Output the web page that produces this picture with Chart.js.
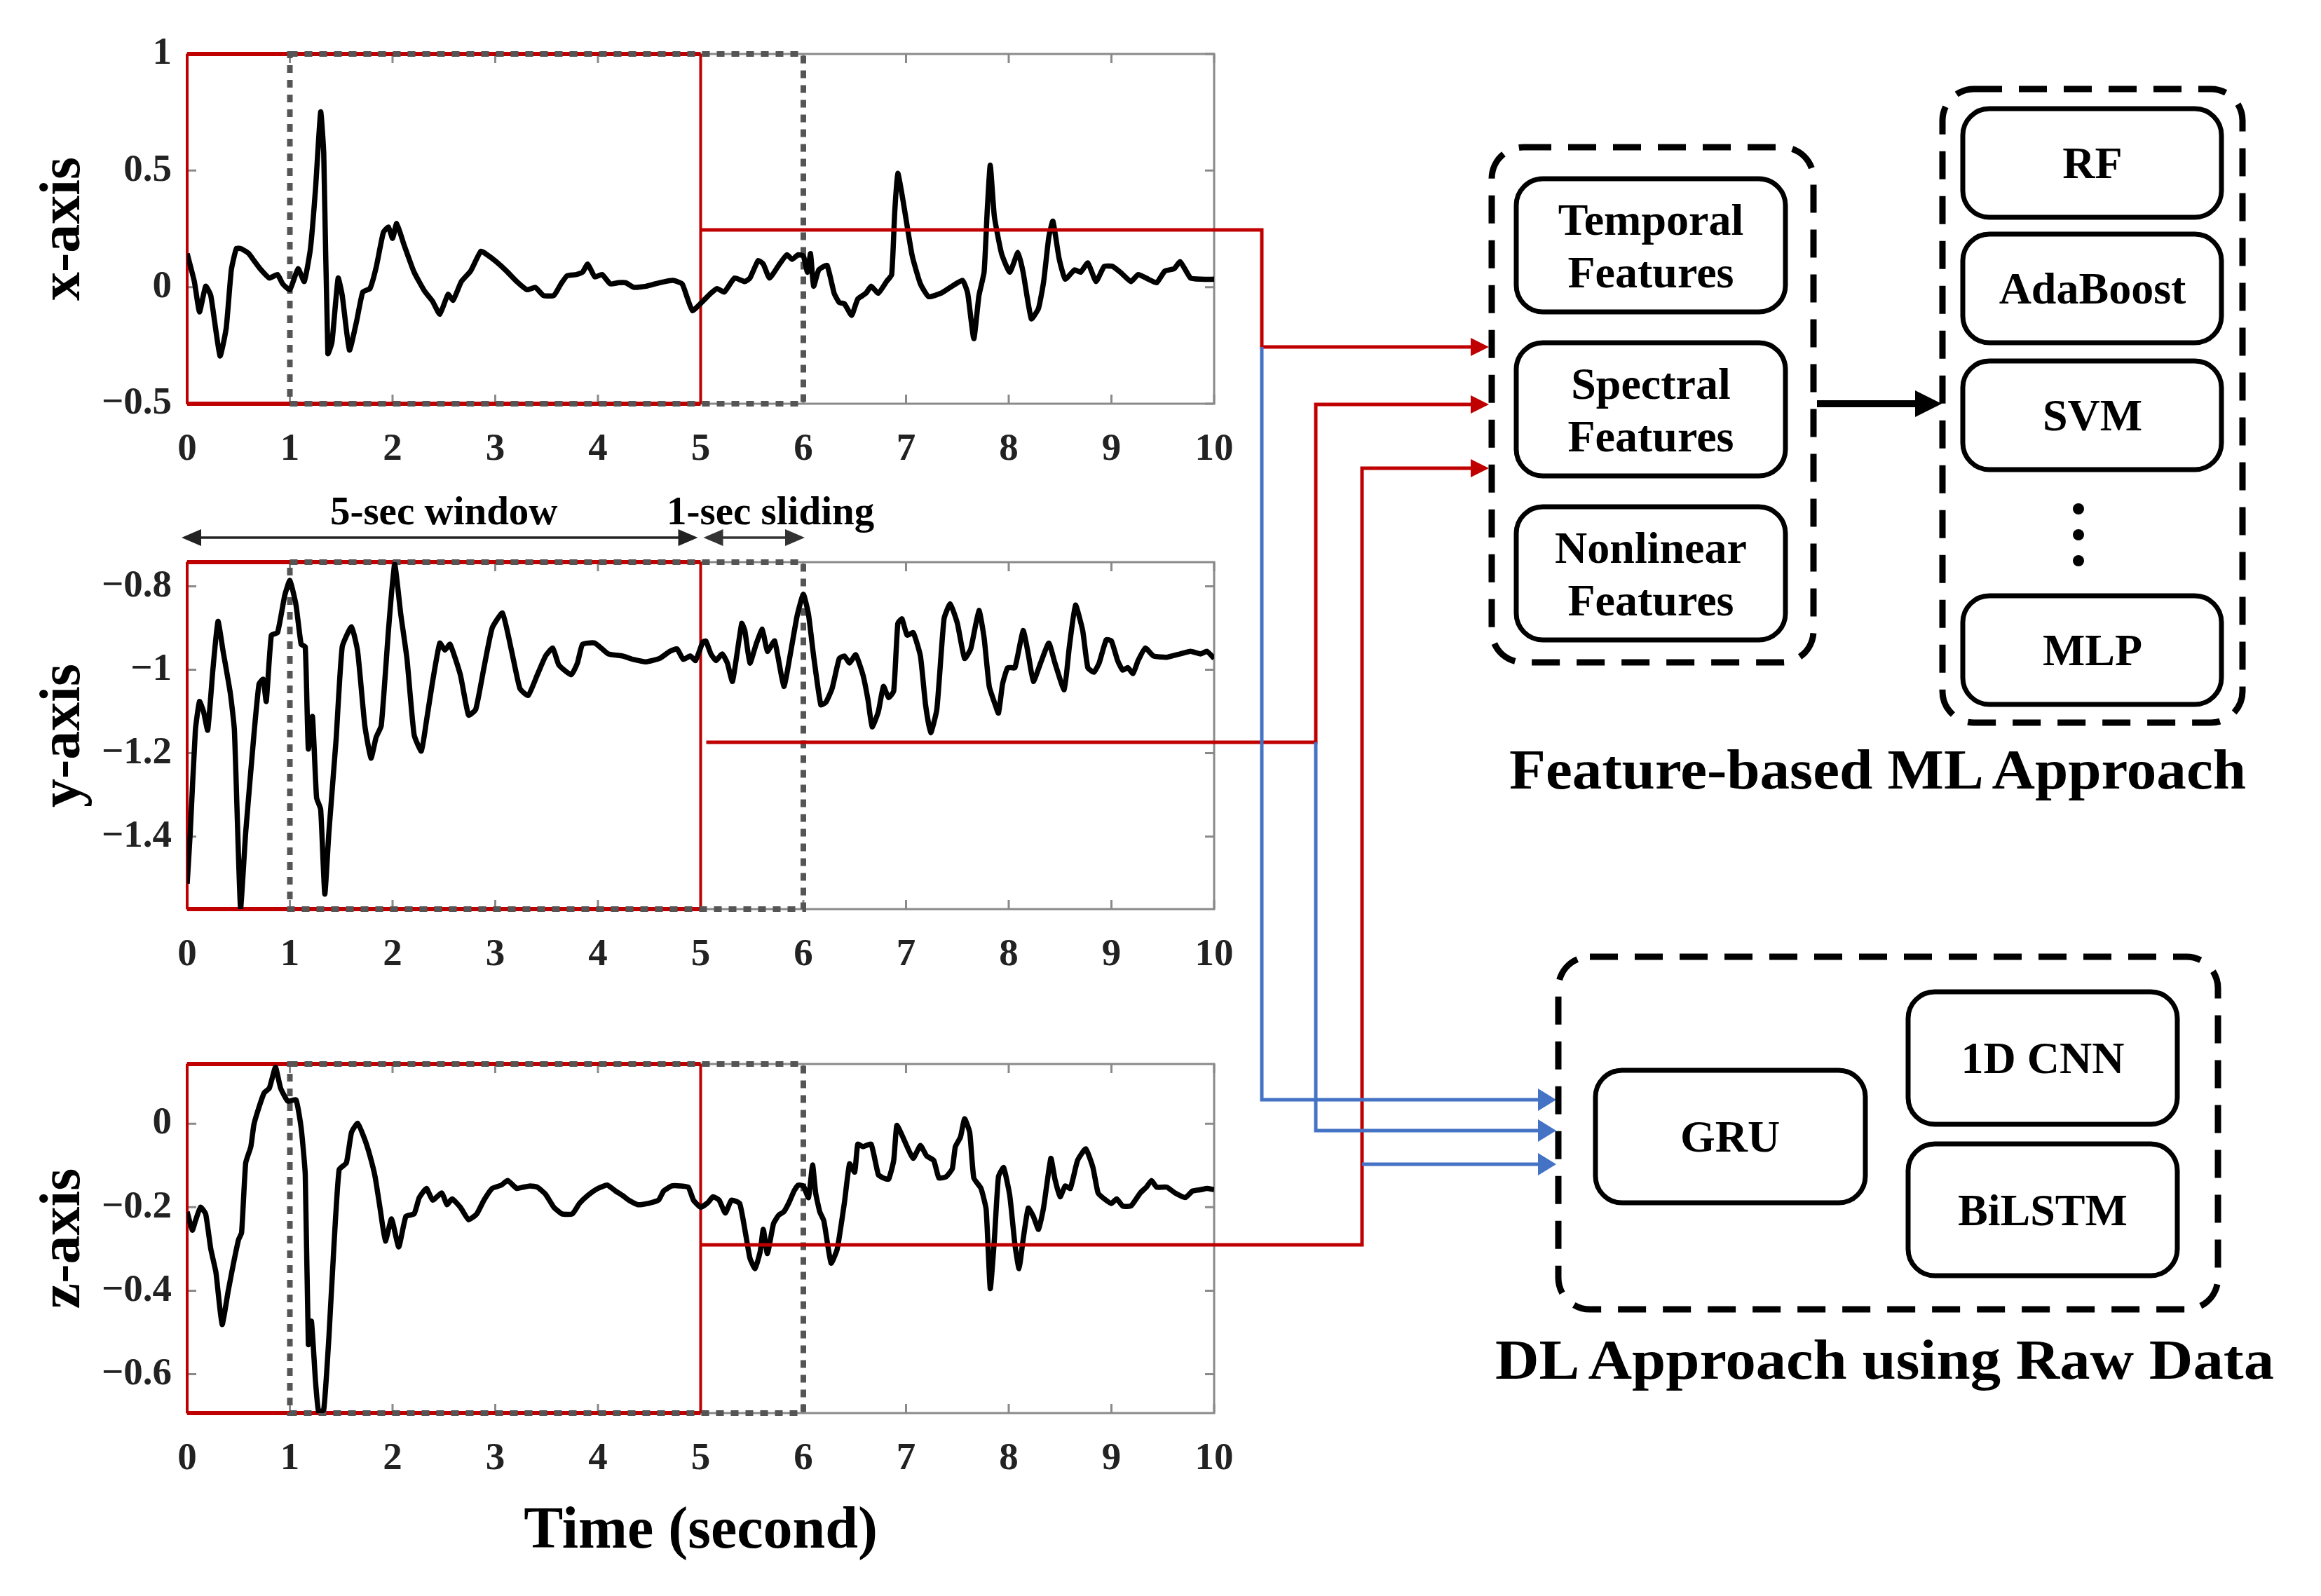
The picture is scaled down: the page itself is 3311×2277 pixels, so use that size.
<!DOCTYPE html>
<html>
<head>
<meta charset="utf-8">
<script src="https://cdn.jsdelivr.net/npm/chart.js@4.4.1/dist/chart.umd.min.js"></script>
<style>
  body { margin: 0; background: #fff; }
  #page { position: relative; width: 3311px; height: 2277px; overflow: hidden; background: #fff; }
  #page canvas { position: absolute; left: 0; }
  #overlay { position: absolute; left: 0; top: 0; font-family: 'Liberation Serif', 'Times New Roman', serif; font-weight: bold; }
</style>
</head>
<body>
<div id="page">
  <canvas id="chartX"></canvas>
  <canvas id="chartY"></canvas>
  <canvas id="chartZ"></canvas>
  <svg id="overlay" width="3311" height="2277" xmlns="http://www.w3.org/2000/svg"></svg>
</div>
<script>
// accelerometer traces (time in s)
const xTime = [0,0.07,0.12,0.18,0.23,0.32,0.38,0.43,0.48,0.53,
  0.6,0.65,0.71,0.8,0.88,0.93,1,1.08,1.14,1.2,
  1.25,1.3,1.33,1.37,1.41,1.47,1.51,1.58,1.65,1.71,
  1.78,1.84,1.91,1.96,2,2.04,2.11,2.21,2.31,2.39,
  2.46,2.54,2.59,2.67,2.76,2.86,2.92,3.01,3.11,3.21,
  3.31,3.39,3.47,3.57,3.64,3.7,3.79,3.85,3.9,3.97,
  4.04,4.12,4.2,4.27,4.35,4.47,4.6,4.73,4.82,4.87,
  4.92,5,5.1,5.16,5.23,5.33,5.43,5.48,5.56,5.61,
  5.67,5.76,5.84,5.89,5.95,6,6.04,6.07,6.1,6.15,
  6.23,6.3,6.35,6.4,6.47,6.53,6.61,6.66,6.73,6.81,
  6.86,6.89,6.92,6.97,7.06,7.14,7.22,7.34,7.43,7.55,
  7.6,7.66,7.71,7.76,7.79,7.82,7.86,7.93,8.01,8.09,
  8.14,8.22,8.29,8.34,8.39,8.43,8.49,8.55,8.64,8.7,
  8.77,8.85,8.93,9.01,9.1,9.19,9.26,9.36,9.44,9.52,
  9.61,9.67,9.77,9.87,10];
const xAcc = [0.144,0.024,-0.106,0.004,-0.036,-0.295,-0.176,0.074,0.166,0.164,
  0.144,0.114,0.079,0.039,0.054,0.014,-0.011,0.079,0.024,0.164,
  0.423,0.752,0.573,-0.285,-0.236,0.039,-0.036,-0.27,-0.146,-0.021,
  -0.006,0.084,0.234,0.258,0.209,0.273,0.184,0.064,-0.016,-0.061,
  -0.116,-0.031,-0.056,0.024,0.069,0.154,0.139,0.109,0.069,0.024,
  -0.011,-0.001,-0.036,-0.036,0.014,0.049,0.054,0.064,0.099,0.044,
  0.054,0.014,0.019,0.019,-0.001,0.004,0.019,0.029,0.014,-0.046,
  -0.101,-0.07,-0.026,-0.006,-0.021,0.039,0.024,0.039,0.114,0.099,
  0.039,0.094,0.139,0.119,0.139,0.134,0.064,0.144,0.004,0.074,
  0.094,-0.026,-0.066,-0.071,-0.121,-0.051,-0.026,0.004,-0.026,0.024,
  0.054,0.323,0.488,0.373,0.134,0.014,-0.041,-0.026,-0.001,0.029,
  -0.026,-0.221,-0.036,0.064,0.323,0.523,0.303,0.144,0.064,0.149,
  0.064,-0.136,-0.091,0.024,0.214,0.283,0.124,0.034,0.074,0.064,
  0.104,0.024,0.089,0.089,0.059,0.024,0.054,0.034,0.019,0.069,
  0.079,0.109,0.039,0.034,0.034];

const yTime = [0,0.03,0.08,0.12,0.16,0.2,0.25,0.3,0.35,0.42,
  0.46,0.52,0.57,0.65,0.7,0.74,0.77,0.82,0.88,0.95,
  1,1.06,1.11,1.15,1.18,1.22,1.26,1.3,1.34,1.38,
  1.45,1.51,1.6,1.66,1.73,1.79,1.84,1.89,1.96,2.02,
  2.08,2.14,2.21,2.28,2.33,2.39,2.46,2.51,2.56,2.66,
  2.74,2.81,2.89,2.97,3.07,3.16,3.24,3.32,3.41,3.49,
  3.56,3.62,3.74,3.8,3.85,3.97,4.1,4.24,4.34,4.47,
  4.6,4.7,4.77,4.83,4.9,4.95,5.02,5.05,5.1,5.15,
  5.21,5.26,5.31,5.4,5.43,5.48,5.54,5.6,5.65,5.72,
  5.81,5.87,5.94,6,6.05,6.1,6.17,6.22,6.28,6.35,
  6.4,6.45,6.51,6.58,6.63,6.67,6.73,6.78,6.83,6.88,
  6.92,6.96,7.01,7.07,7.14,7.19,7.24,7.3,7.37,7.43,
  7.5,7.57,7.63,7.71,7.76,7.81,7.86,7.9,7.94,7.99,
  8.06,8.14,8.19,8.24,8.31,8.39,8.45,8.54,8.59,8.65,
  8.72,8.77,8.83,8.88,8.95,9,9.06,9.11,9.16,9.21,
  9.26,9.33,9.41,9.54,9.67,9.77,9.87,9.93,10];
const yAcc = [-1.513,-1.39,-1.145,-1.076,-1.101,-1.145,-1.001,-0.884,-0.956,-1.056,
  -1.145,-1.574,-1.39,-1.156,-1.034,-1.023,-1.076,-0.917,-0.911,-0.822,
  -0.786,-0.845,-0.939,-0.945,-1.19,-1.112,-1.307,-1.335,-1.538,-1.39,
  -1.168,-0.945,-0.897,-0.956,-1.134,-1.212,-1.162,-1.134,-0.906,-0.747,
  -0.867,-0.973,-1.156,-1.195,-1.123,-1.028,-0.936,-0.953,-0.939,-1.012,
  -1.109,-1.095,-0.995,-0.9,-0.864,-0.956,-1.045,-1.062,-1.012,-0.967,
  -0.948,-0.989,-1.012,-0.984,-0.939,-0.936,-0.962,-0.967,-0.975,-0.981,
  -0.973,-0.956,-0.95,-0.975,-0.967,-0.978,-0.934,-0.931,-0.962,-0.978,
  -0.962,-0.984,-1.028,-0.889,-0.906,-0.984,-0.939,-0.903,-0.956,-0.931,
  -1.04,-0.967,-0.87,-0.819,-0.867,-0.967,-1.084,-1.078,-1.045,-0.973,
  -0.967,-0.984,-0.964,-1.012,-1.073,-1.137,-1.101,-1.04,-1.067,-1.051,
  -0.889,-0.878,-0.917,-0.911,-0.967,-1.084,-1.151,-1.095,-0.878,-0.842,
  -0.889,-0.973,-0.95,-0.858,-0.923,-1.04,-1.078,-1.104,-1.034,-0.995,
  -0.995,-0.906,-0.962,-1.028,-0.984,-0.936,-0.984,-1.048,-0.945,-0.845,
  -0.906,-0.995,-1.006,-0.984,-0.928,-0.931,-0.978,-1.001,-0.995,-1.009,
  -0.978,-0.948,-0.967,-0.97,-0.962,-0.956,-0.962,-0.956,-0.973];

const zTime = [0,0.05,0.08,0.13,0.18,0.23,0.28,0.34,0.4,0.45,
  0.5,0.53,0.57,0.62,0.65,0.7,0.75,0.8,0.86,0.91,
  0.98,1.06,1.11,1.15,1.18,1.21,1.25,1.28,1.33,1.38,
  1.43,1.48,1.55,1.6,1.66,1.73,1.78,1.83,1.88,1.93,
  1.99,2.06,2.13,2.21,2.26,2.33,2.39,2.48,2.53,2.58,
  2.66,2.74,2.82,2.89,2.97,3.06,3.12,3.21,3.27,3.34,
  3.41,3.49,3.57,3.65,3.75,3.82,3.9,4,4.09,4.17,
  4.24,4.3,4.39,4.49,4.59,4.64,4.72,4.8,4.88,4.93,
  5,5.07,5.12,5.18,5.24,5.3,5.38,5.44,5.48,5.53,
  5.58,5.61,5.65,5.71,5.76,5.81,5.86,5.91,5.95,6,
  6.05,6.09,6.12,6.16,6.2,6.27,6.33,6.4,6.45,6.5,
  6.53,6.58,6.66,6.73,6.78,6.83,6.88,6.91,6.96,7.01,
  7.07,7.14,7.2,7.27,7.32,7.39,7.45,7.48,7.53,7.57,
  7.62,7.66,7.73,7.78,7.82,7.86,7.9,7.95,8.01,8.06,
  8.1,8.14,8.19,8.24,8.29,8.34,8.41,8.45,8.5,8.55,
  8.6,8.67,8.75,8.82,8.87,8.93,9,9.05,9.11,9.19,
  9.28,9.34,9.39,9.44,9.54,9.62,9.72,9.79,9.87,9.93,
  10];
const zAcc = [-0.211,-0.255,-0.233,-0.2,-0.216,-0.3,-0.356,-0.481,-0.4,-0.336,
  -0.278,-0.261,-0.094,-0.055,-0.002,0.04,0.074,0.085,0.135,0.085,
  0.054,0.057,-0.01,-0.122,-0.529,-0.473,-0.618,-0.69,-0.685,-0.512,
  -0.289,-0.11,-0.094,-0.021,0.001,-0.038,-0.077,-0.127,-0.205,-0.281,
  -0.228,-0.295,-0.222,-0.216,-0.177,-0.155,-0.183,-0.166,-0.194,-0.18,
  -0.2,-0.23,-0.216,-0.183,-0.155,-0.147,-0.136,-0.155,-0.152,-0.149,
  -0.152,-0.169,-0.2,-0.216,-0.216,-0.191,-0.172,-0.155,-0.147,-0.161,
  -0.172,-0.183,-0.194,-0.191,-0.183,-0.161,-0.149,-0.149,-0.152,-0.183,
  -0.2,-0.189,-0.175,-0.183,-0.214,-0.183,-0.191,-0.267,-0.322,-0.347,
  -0.306,-0.253,-0.311,-0.239,-0.219,-0.211,-0.189,-0.161,-0.147,-0.149,
  -0.177,-0.099,-0.166,-0.211,-0.233,-0.334,-0.3,-0.189,-0.096,-0.116,
  -0.049,-0.055,-0.049,-0.122,-0.13,-0.133,-0.088,-0.004,-0.027,-0.055,
  -0.083,-0.052,-0.077,-0.088,-0.13,-0.127,-0.108,-0.055,-0.032,0.012,
  -0.021,-0.13,-0.155,-0.205,-0.395,-0.278,-0.127,-0.105,-0.172,-0.289,
  -0.347,-0.278,-0.202,-0.222,-0.253,-0.2,-0.083,-0.133,-0.175,-0.149,
  -0.155,-0.088,-0.06,-0.105,-0.166,-0.18,-0.191,-0.18,-0.197,-0.197,
  -0.166,-0.152,-0.136,-0.152,-0.152,-0.166,-0.177,-0.161,-0.158,-0.155,
  -0.158];

// axes
const timeTicks = [0, 1, 2, 3, 4, 5, 6, 7, 8, 9, 10];
const xTicks = [-0.5, 0, 0.5, 1];
const yTicks = [-1.4, -1.2, -1, -0.8];
const zTicks = [-0.6, -0.4, -0.2, 0];
const xRange = [-0.5, 1];
const yRange = [-1.574, -0.742];
const zRange = [-0.693, 0.143];

// sliding window (s)
const windowStart = 0;
const windowLength = 5;
const windowSlide = 1;

const FONT = "'Liberation Serif', 'Times New Roman', serif";
const RED = '#c00000';
const BLUE = '#4472c4';
const TOP_PAD = 80;

const windowPlugin = {
  id: 'windowBoxes',
  beforeDatasetsDraw(chart) {
    const { ctx, chartArea: a, scales: { x, y } } = chart;
    ctx.save();
    ctx.strokeStyle = '#8a8a8a';
    ctx.lineWidth = 3;
    ctx.strokeRect(a.left, a.top, a.right - a.left, a.bottom - a.top);
    ctx.beginPath();
    x.ticks.forEach(t => {
      const px = x.getPixelForValue(t.value);
      ctx.moveTo(px, a.bottom); ctx.lineTo(px, a.bottom - 13);
      ctx.moveTo(px, a.top); ctx.lineTo(px, a.top + 13);
    });
    y.ticks.forEach(t => {
      const py = y.getPixelForValue(t.value);
      ctx.moveTo(a.left, py); ctx.lineTo(a.left + 13, py);
      ctx.moveTo(a.right, py); ctx.lineTo(a.right - 13, py);
    });
    ctx.stroke();

    // red 5-sec window
    const r0 = x.getPixelForValue(windowStart);
    const r1 = x.getPixelForValue(windowStart + windowLength);
    ctx.strokeStyle = RED;
    ctx.lineWidth = 6;
    ctx.beginPath();
    ctx.moveTo(r0, a.top); ctx.lineTo(r1, a.top);
    ctx.moveTo(r0, a.bottom); ctx.lineTo(r1, a.bottom);
    ctx.stroke();
    ctx.lineWidth = 4;
    ctx.beginPath();
    ctx.moveTo(r0, a.top); ctx.lineTo(r0, a.bottom);
    ctx.moveTo(r1, a.top); ctx.lineTo(r1, a.bottom);
    ctx.stroke();

    // next window, shifted by the slide
    const g0 = x.getPixelForValue(windowStart + windowSlide);
    const g1 = x.getPixelForValue(windowStart + windowSlide + windowLength);
    ctx.strokeStyle = '#555';
    ctx.lineWidth = 8;
    ctx.setLineDash([11, 10]);
    ctx.strokeRect(g0, a.top, g1 - g0, a.bottom - a.top);
    ctx.restore();
  }
};

const fmt = v => String(+(+v).toFixed(2)).replace('-', '\u2212');

function makeChart(id, cfg) {
  const canvas = document.getElementById(id);
  const top = cfg.plotTop - TOP_PAD;
  canvas.width = 1800;
  canvas.height = cfg.plotBottom + cfg.xAxisH - top;
  canvas.style.top = top + 'px';

  const points = cfg.time.map((t, i) => ({ x: t, y: cfg.values[i] }));
  const tickFont = { family: FONT, size: 55, weight: 'bold' };

  return new Chart(canvas, {
    type: 'line',
    data: {
      datasets: [{
        data: points,
        borderColor: '#000',
        borderWidth: 7.5,
        borderJoinStyle: 'round',
        pointRadius: 0,
        tension: 0.15,
        fill: false
      }]
    },
    options: {
      responsive: false,
      animation: false,
      events: [],
      layout: { padding: { top: TOP_PAD, right: 68, left: 0, bottom: 0 } },
      plugins: { legend: { display: false }, tooltip: { enabled: false } },
      scales: {
        x: {
          type: 'linear',
          min: 0,
          max: 10,
          afterBuildTicks: s => { s.ticks = timeTicks.map(v => ({ value: v })); },
          afterFit: s => { s.height = cfg.xAxisH; },
          grid: { display: false, drawTicks: false },
          border: { display: false },
          ticks: { padding: 33, font: tickFont, color: '#222', maxRotation: 0, autoSkip: false, callback: fmt },
          title: {
            display: !!cfg.xTitle,
            text: cfg.xTitle || '',
            color: '#000',
            font: { family: FONT, size: 84, weight: 'bold' },
            padding: { top: 0, bottom: 0 }
          }
        },
        y: {
          type: 'linear',
          min: cfg.range[0],
          max: cfg.range[1],
          afterBuildTicks: s => { s.ticks = cfg.ticks.map(v => ({ value: v })); },
          afterFit: s => { s.width = 267; },
          grid: { display: false, drawTicks: false },
          border: { display: false },
          ticks: { padding: 22, font: tickFont, color: '#222', callback: fmt },
          title: {
            display: true,
            text: cfg.label,
            color: '#000',
            font: { family: FONT, size: 82, weight: 'bold' },
            padding: { top: 43, bottom: 0 }
          }
        }
      }
    },
    plugins: [windowPlugin]
  });
}

const cfgX = { time: xTime, values: xAcc, range: xRange, ticks: xTicks, label: 'x-axis', plotTop: 77, plotBottom: 576, xAxisH: 110 };
const cfgY = { time: yTime, values: yAcc, range: yRange, ticks: yTicks, label: 'y-axis', plotTop: 802, plotBottom: 1297, xAxisH: 110 };
const cfgZ = { time: zTime, values: zAcc, range: zRange, ticks: zTicks, label: 'z-axis', plotTop: 1518, plotBottom: 2016, xAxisH: 221, xTitle: 'Time (second)' };

const chartX = makeChart('chartX', cfgX);
const chartY = makeChart('chartY', cfgY);
const chartZ = makeChart('chartZ', cfgZ);

// ---- diagram overlay ----
const parts = [];
function poly(pts, color, w) {
  parts.push(`<polyline points="${pts.map(p => p.join(',')).join(' ')}" fill="none" stroke="${color}" stroke-width="${w}" stroke-linejoin="miter" stroke-linecap="butt"/>`);
}
function head(xTip, y, dir, color, len, half) {
  const xb = xTip - dir * len;
  parts.push(`<polygon points="${xTip},${y} ${xb},${y - half} ${xb},${y + half}" fill="${color}"/>`);
}
function label(str, x, y, size, extra) {
  parts.push(`<text x="${x}" y="${y}" font-size="${size}" text-anchor="middle" fill="#000" ${extra || ''}>${str}</text>`);
}
function box(x, y, w, h, dashed) {
  if (dashed) {
    parts.push(`<rect x="${x}" y="${y}" width="${w}" height="${h}" rx="45" fill="none" stroke="#000" stroke-width="9" stroke-dasharray="40 24"/>`);
  } else {
    parts.push(`<rect x="${x}" y="${y}" width="${w}" height="${h}" rx="38" fill="#fff" stroke="#000" stroke-width="7"/>`);
  }
}

// window annotation above the y-axis plot
const px = t => chartY.scales.x.getPixelForValue(t);
const annY = 767;
poly([[px(0) - 8 + 26, annY], [px(5) - 4 - 26, annY]], '#222', 3.5);
head(px(0) - 8, annY, -1, '#222', 28, 12);
head(px(5) - 4, annY, 1, '#222', 28, 12);
poly([[px(5) + 4 + 26, annY], [px(6) + 2 - 26, annY]], '#333', 3.5);
head(px(5) + 4, annY, -1, '#333', 28, 12);
head(px(6) + 2, annY, 1, '#333', 28, 12);
label('5-sec window', px(2.5), 748, 57);
label('1-sec sliding', px(5.68), 748, 57);

// connectors from the windows
const x5 = chartX.scales.x.getPixelForValue(5);
const redTip = 2124, blueTip = 2220;
poly([[x5, 328], [1800, 328], [1800, 495], [redTip - 20, 495]], RED, 5);
head(redTip, 495, 1, RED, 26, 13);
poly([[x5 + 8, 1059], [1877, 1059], [1877, 577], [redTip - 20, 577]], RED, 5);
head(redTip, 577, 1, RED, 26, 13);
poly([[x5, 1776], [1943, 1776], [1943, 668], [redTip - 20, 668]], RED, 5);
head(redTip, 668, 1, RED, 26, 13);

poly([[1800, 495], [1800, 1569], [blueTip - 20, 1569]], BLUE, 5);
head(blueTip, 1569, 1, BLUE, 26, 16);
poly([[1877, 1059], [1877, 1613], [blueTip - 20, 1613]], BLUE, 5);
head(blueTip, 1613, 1, BLUE, 26, 16);
poly([[1943, 1661], [blueTip - 20, 1661]], BLUE, 5);
head(blueTip, 1661, 1, BLUE, 26, 16);

// feature-based ML block
box(2128, 210, 459, 735, true);
const featureBoxes = [['Temporal', 'Features', 255], ['Spectral', 'Features', 489], ['Nonlinear', 'Features', 723]];
featureBoxes.forEach(([a, b, y]) => {
  box(2163, y, 384, 190, false);
  const cy = y + 95;
  label(a, 2355, cy - 15, 64);
  label(b, 2355, cy + 60, 64);
});
poly([[2592, 576], [2740, 576]], '#000', 10);
head(2770, 576, 1, '#000', 38, 19);

box(2771, 127, 428, 904, true);
const mlModels = [['RF', 155], ['AdaBoost', 334], ['SVM', 515], ['MLP', 850]];
mlModels.forEach(([name, y]) => {
  box(2800, y, 369, 155, false);
  label(name, 2985, y + 77 + 22, 64);
});
[726, 763, 800].forEach(cy => parts.push(`<circle cx="2965" cy="${cy}" r="8" fill="#000"/>`));
parts.push(`<text x="2153" y="1125" font-size="80" fill="#000" textLength="1051" lengthAdjust="spacingAndGlyphs">Feature-based ML Approach</text>`);

// DL block
box(2223, 1365, 941, 503, true);
box(2276, 1527, 385, 189, false);
label('GRU', 2468, 1621 + 22, 64);
box(2722, 1415, 384, 189, false);
label('1D CNN', 2914, 1509 + 22, 64);
box(2722, 1632, 384, 188, false);
label('BiLSTM', 2914, 1726 + 22, 64);
parts.push(`<text x="2133" y="1967" font-size="80" fill="#000" textLength="1111" lengthAdjust="spacingAndGlyphs">DL Approach using Raw Data</text>`);

document.getElementById('overlay').innerHTML = parts.join('\n');
</script>
</body>
</html>
